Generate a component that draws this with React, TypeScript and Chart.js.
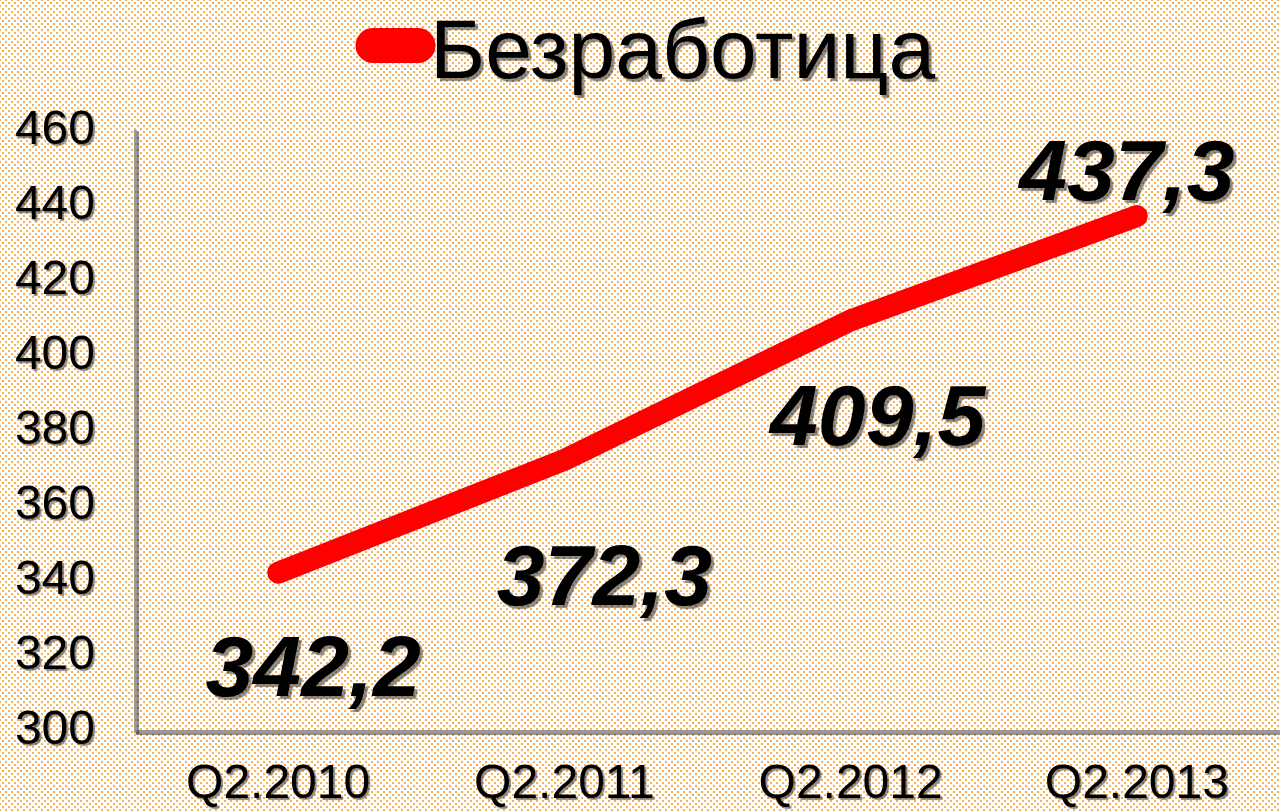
import React, { useEffect, useRef } from "react";
import { Chart, registerables } from "chart.js";

Chart.register(...registerables);

const categories = ["Q2.2010", "Q2.2011", "Q2.2012", "Q2.2013"];
const unemployment = [342.2, 372.3, 409.5, 437.3];
const valueLabels = ["342,2", "372,3", "409,5", "437,3"];
const seriesName = "Безработица";
// label offsets from the point (dx, dy to text baseline centre)
const labelOffsets = [
  [35, 123],
  [40, 145],
  [27, 125],
  [-10, -16],
];

const FONT = "Arial, 'Liberation Sans', sans-serif";
const SHADOW = "rgba(0,0,0,0.45)";

const shadowPlugin = {
  id: "textShadow",
  beforeDraw(chart: any) {
    const ctx = chart.ctx;
    ctx.shadowColor = SHADOW;
    ctx.shadowOffsetX = 2;
    ctx.shadowOffsetY = 2;
    ctx.shadowBlur = 1;
  },
  beforeDatasetsDraw(chart: any) {
    const ctx = chart.ctx;
    ctx.shadowColor = "rgba(0,0,0,0)";
    ctx.shadowOffsetX = 0;
    ctx.shadowOffsetY = 0;
    ctx.shadowBlur = 0;
  },
};

const labelsPlugin = {
  id: "valueLabels",
  afterDatasetsDraw(chart: any) {
    const ctx = chart.ctx;
    const meta = chart.getDatasetMeta(0);
    ctx.save();
    ctx.shadowColor = SHADOW;
    ctx.shadowOffsetX = 3;
    ctx.shadowOffsetY = 3;
    ctx.shadowBlur = 1;
    ctx.fillStyle = "#000";
    ctx.font = `italic bold 86px ${FONT}`;
    ctx.textAlign = "center";
    ctx.textBaseline = "alphabetic";
    meta.data.forEach((pt: any, i: number) => {
      const [dx, dy] = labelOffsets[i];
      ctx.fillText(valueLabels[i], pt.x + dx, pt.y + dy);
    });
    ctx.restore();
  },
  afterDraw(chart: any) {
    const ctx = chart.ctx;
    const ds = chart.data.datasets[0];
    ctx.save();
    // legend sample line
    ctx.strokeStyle = ds.borderColor;
    ctx.lineWidth = 35;
    ctx.lineCap = "round";
    ctx.beginPath();
    ctx.moveTo(373, 45.5);
    ctx.lineTo(418, 45.5);
    ctx.stroke();
    // legend text
    ctx.shadowColor = SHADOW;
    ctx.shadowOffsetX = 3;
    ctx.shadowOffsetY = 3;
    ctx.shadowBlur = 1;
    ctx.fillStyle = "#000";
    ctx.font = `84px ${FONT}`;
    ctx.textAlign = "left";
    ctx.textBaseline = "alphabetic";
    ctx.fillText(ds.label, 430, 78);
    ctx.restore();
  },
};

export default function App() {
  const ref = useRef<HTMLCanvasElement>(null);

  useEffect(() => {
    if (!ref.current) return;
    const chart = new Chart(ref.current, {
      type: "line",
      data: {
        labels: categories,
        datasets: [
          {
            label: seriesName,
            data: unemployment,
            borderColor: "#ff0000",
            backgroundColor: "#ff0000",
            borderWidth: 22,
            borderCapStyle: "round",
            borderJoinStyle: "round",
            pointRadius: 0,
            pointHoverRadius: 0,
            tension: 0,
            fill: false,
          },
        ],
      },
      options: {
        animation: false,
        responsive: false,
        maintainAspectRatio: false,
        layout: { padding: { top: 131, right: 0, bottom: 0, left: 0 } },
        plugins: {
          legend: { display: false },
          tooltip: { enabled: false },
        },
        scales: {
          x: {
            offset: true,
            grid: { display: false, drawTicks: false },
            border: { display: true, color: "#999999", width: 3 },
            ticks: {
              color: "#000",
              padding: 25,
              font: { size: 48, family: FONT },
              maxRotation: 0,
            },
            afterFit(scale: any) {
              scale.height = 81;
            },
          },
          y: {
            min: 300,
            max: 460,
            grid: { display: false, drawTicks: false },
            border: { display: true, color: "#999999", width: 3 },
            ticks: {
              stepSize: 20,
              color: "#000",
              padding: 40,
              font: { size: 48, family: FONT },
            },
            afterFit(scale: any) {
              scale.width = 135;
            },
          },
        },
      },
      plugins: [shadowPlugin, labelsPlugin],
    });
    return () => chart.destroy();
  }, []);

  const bg: React.CSSProperties = {
    position: "absolute",
    left: 0,
    top: 0,
    width: 1280,
    height: 812,
    backgroundColor: "#ffffff",
    backgroundImage:
      "radial-gradient(circle, rgba(246,164,50,0.85) 0.8px, rgba(246,164,50,0) 1.5px), radial-gradient(circle, rgba(246,164,50,0.85) 0.8px, rgba(246,164,50,0) 1.5px)",
    backgroundSize: "6px 6px, 6px 6px",
    backgroundPosition: "0 0, 3px 3px",
  };

  return (
    <div style={bg}>
      <canvas ref={ref} width={1280} height={812} style={{ display: "block" }} />
    </div>
  );
}
